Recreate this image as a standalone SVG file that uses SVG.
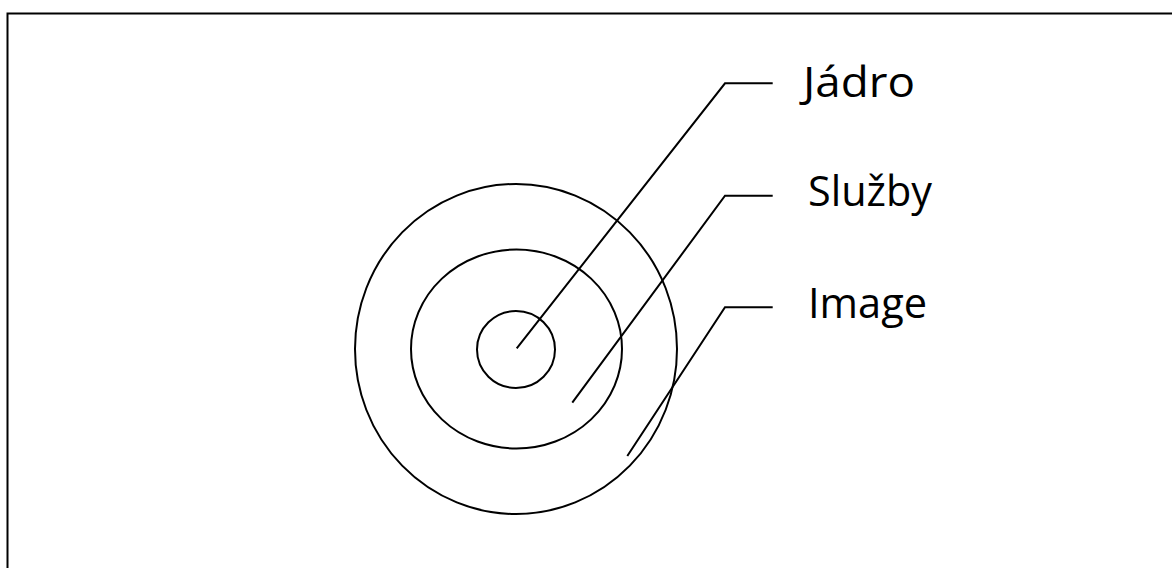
<svg xmlns="http://www.w3.org/2000/svg" width="1172" height="568" viewBox="0 0 1172 568">
<style>
.shape{fill:none;stroke:#000;stroke-width:2}
.conn{fill:none;stroke:#000;stroke-width:2}
.lbl{font-family:"Open Sans","Noto Sans",sans-serif;font-size:42px;fill:#000}
</style>
<rect x="0" y="0" width="1172" height="568" fill="#fff"/>
<rect id="frame" x="7.5" y="13.5" width="1180" height="570" class="shape"/>
<g id="outer"><ellipse cx="516" cy="349" rx="161" ry="165" class="shape"/></g>
<g id="middle"><ellipse cx="516.5" cy="349" rx="105.5" ry="99.5" class="shape"/></g>
<g id="inner"><ellipse cx="516" cy="349.5" rx="39" ry="38.5" class="shape"/></g>
<g id="connectors">
<polyline class="conn" points="516.7,348.3 725,83.3 772.7,83.3"/>
<polyline class="conn" points="572.3,402.7 725,195.7 772.7,195.7"/>
<polyline class="conn" points="627.3,456 725,307.3 772.7,307.3"/>
</g>
<g id="label-jadro"><text class="lbl" x="803" y="97" textLength="112" lengthAdjust="spacingAndGlyphs">Jádro</text></g>
<g id="label-sluzby"><text class="lbl" x="808" y="206" textLength="124" lengthAdjust="spacingAndGlyphs">Služby</text></g>
<g id="label-image"><text class="lbl" x="808" y="318" textLength="119" lengthAdjust="spacingAndGlyphs">Image</text></g>
</svg>
